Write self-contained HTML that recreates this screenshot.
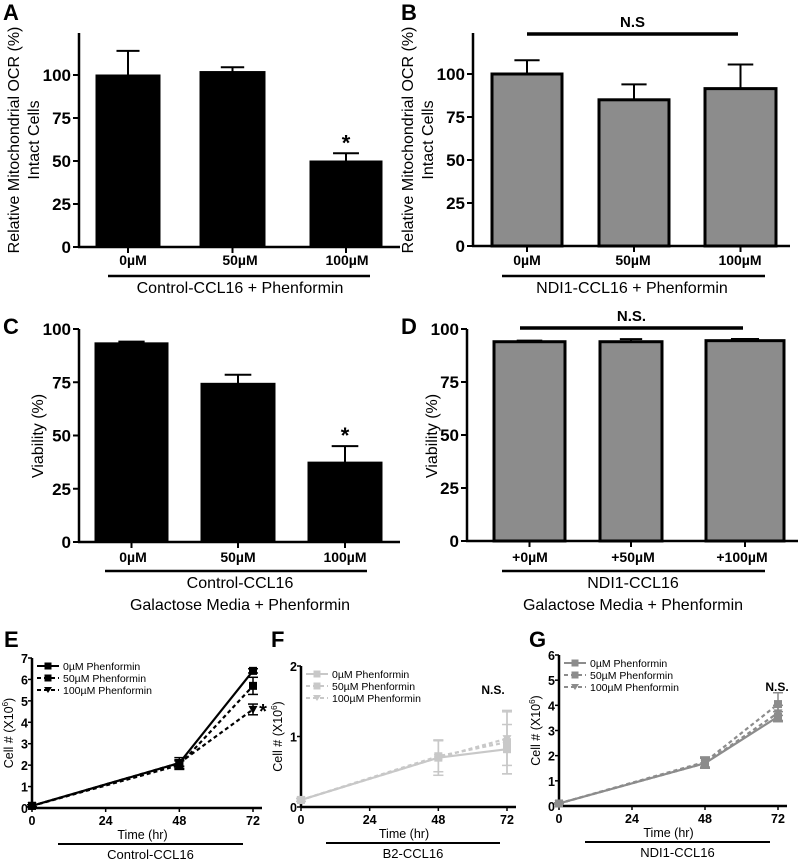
<!DOCTYPE html>
<html><head><meta charset="utf-8">
<style>
html,body{margin:0;padding:0;background:#fff;}
svg{display:block;font-family:"Liberation Sans",Arial,sans-serif;}
</style></head>
<body>
<svg id="fig" width="798" height="860" viewBox="0 0 798 860" xmlns="http://www.w3.org/2000/svg"></svg>
<script>
// ---- Bar panel data ----
const barCatsA = ["0\u00b5M","50\u00b5M","100\u00b5M"];
const barValsA = [100, 102, 50];
const barErrA  = [14, 2.5, 4.5];
const barCatsB = ["0\u00b5M","50\u00b5M","100\u00b5M"];
const barValsB = [100, 85, 91.5];
const barErrB  = [8, 9, 14];
const barCatsC = ["0\u00b5M","50\u00b5M","100\u00b5M"];
const barValsC = [93.5, 74.5, 37.5];
const barErrC  = [0.6, 4, 7.5];
const barCatsD = ["+0\u00b5M","+50\u00b5M","+100\u00b5M"];
const barValsD = [94, 94, 94.5];
const barErrD  = [0.5, 1.2, 0.8];
const barTicks = [0, 25, 50, 75, 100];
// ---- Growth curve data ----
const timePoints = [0, 48, 72];
const timeTicks = [0, 24, 48, 72];
const seriesNames = ["0\u00b5M Phenformin","50\u00b5M Phenformin","100\u00b5M Phenformin"];
const growthE0 = [0.1, 2.1, 6.4];
const growthE50 = [0.1, 2.0, 5.7];
const growthE100 = [0.1, 2.1, 4.6];
const errE0 = [0.05, 0.25, 0.1];
const errE50 = [0.05, 0.2, 0.4];
const errE100 = [0.05, 0.15, 0.25];
const growthF0 = [0.1, 0.7, 0.82];
const growthF50 = [0.1, 0.72, 0.92];
const growthF100 = [0.1, 0.7, 0.97];
const errF0 = [0.02, 0.25, 0.35];
const errF50 = [0.02, 0.22, 0.45];
const errF100 = [0.02, 0.25, 0.38];
const growthG0 = [0.1, 1.7, 3.55];
const growthG50 = [0.1, 1.75, 4.05];
const growthG100 = [0.1, 1.7, 3.7];
const errG0 = [0.03, 0.2, 0.2];
const errG50 = [0.03, 0.2, 0.45];
const errG100 = [0.03, 0.2, 0.3];
const yTicksE = [0,1,2,3,4,5,6,7];
const yTicksF = [0,1,2];
const yTicksG = [0,1,2,3,4,5,6];

const NS = "http://www.w3.org/2000/svg";
const svg = document.getElementById('fig');
function el(tag, attrs, parent, text){
  const e = document.createElementNS(NS, tag);
  for (const k in attrs) e.setAttribute(k, attrs[k]);
  if (text !== undefined) e.textContent = text;
  (parent || svg).appendChild(e);
  return e;
}
function line(x1,y1,x2,y2,w,c,g,dash){
  const a={x1:x1,y1:y1,x2:x2,y2:y2,stroke:c||'#000','stroke-width':w||2};
  if(dash) a['stroke-dasharray']=dash;
  return el('line',a,g);
}

function barPanel(cfg, cats, vals, errs){
  const g = el('g',{});
  
  
  const y = v => cfg.y0 - (v/100)*(cfg.y0-cfg.y100);
  const L = el('text',{x:cfg.letterX,y:cfg.letterY,'font-size':22,'font-weight':'bold'},g,cfg.letter);
  
  
  const ya = line(cfg.ax, cfg.axTop, cfg.ax, cfg.y0, 2.5,'#000',g);
  
  
  const xa = line(cfg.ax-1, cfg.y0, cfg.axRight, cfg.y0, 2.5,'#000',g);
  
  
  barTicks.forEach(t=>{
    line(cfg.ax-6, y(t), cfg.ax, y(t), 2,'#000',g);
    const tl = el('text',{x:cfg.ax-8,y:y(t)+6,'font-size':17,'font-weight':'bold','text-anchor':'end'},g,String(t));
    
    
  });
  cats.forEach((c,i)=>{
    const x1 = cfg.bars[i][0], x2 = cfg.bars[i][1], cx=(x1+x2)/2;
    const top = y(vals[i]);
    const eb = line(cx, top, cx, y(vals[i]+errs[i]), 2,'#000',g);
    
    
    line(cx-(x2-x1)*0.18, y(vals[i]+errs[i]), cx+(x2-x1)*0.18, y(vals[i]+errs[i]), 2,'#000',g);
    const r = el('rect',{x:x1,y:top,width:x2-x1,height:cfg.y0-top,fill:cfg.fill,stroke:'#000','stroke-width':cfg.stroke},g);
    
    
    line(cx, cfg.y0, cx, cfg.y0+6, 2,'#000',g);
    const tl = el('text',{x:cfg.labelX[i],y:cfg.tickY,'font-size':14,'font-weight':'bold','text-anchor':'middle'},g,c);
    
    
    if(cfg.star && cfg.star[i]){
      const s = el('text',{x:cx,y:y(vals[i]+errs[i])-3,'font-size':22,'font-weight':'bold','text-anchor':'middle'},g,'*');
      
      
    }
  });
  const ul = line(cfg.ul[0], cfg.ulY, cfg.ul[1], cfg.ulY, 2.5,'#000',g);
  
  
  cfg.group.forEach((t,k)=>{
    const gt = el('text',{x:cfg.groupX,y:cfg.ulY+17+k*22,'font-size':16,'text-anchor':'middle'},g,t);
    
    
  });
  cfg.ytitle.forEach((t,k)=>{
    const yt = el('text',{x:0,y:0,'font-size':16,'text-anchor':'middle',transform:`translate(${cfg.ytX[k]},${cfg.ytY}) rotate(-90)`},g,t);
    
    
  });
  if(cfg.ns){
    line(cfg.ns[0], cfg.ns[2], cfg.ns[1], cfg.ns[2], 3.5,'#000',g);
    const nt = el('text',{x:(cfg.ns[0]+cfg.ns[1])/2,y:cfg.ns[2]-7,'font-size':15,'font-weight':'bold','text-anchor':'middle'},g,cfg.ns[3]);
    
    
  }
}

barPanel({name:'panel-a',letter:'A',letterX:3,letterY:20,ax:79,axTop:33,axRight:400,y0:247,y100:75,
  bars:[[96,160],[200,265],[310,382]],labelX:[133,240,347],tickY:265,fill:'#000',stroke:1,
  ul:[108,370],ulY:276,groupX:240,group:['Control-CCL16 + Phenformin'],
  ytitle:['Relative Mitochondrial OCR (%)','Intact Cells'],ytX:[19,39],ytY:140,star:[0,0,1]},
  barCatsA, barValsA, barErrA);
barPanel({name:'panel-b',letter:'B',letterX:401,letterY:20,ax:473,axTop:33,axRight:790,y0:246,y100:74,
  bars:[[492,562],[599,669],[705,776]],labelX:[527,633,740],tickY:265,fill:'#8c8c8c',stroke:3,
  ul:[502,765],ulY:276,groupX:632,group:['NDI1-CCL16 + Phenformin'],
  ytitle:['Relative Mitochondrial OCR (%)','Intact Cells'],ytX:[413,433],ytY:140,ns:[527,738,34,'N.S']},
  barCatsB, barValsB, barErrB);
barPanel({name:'panel-c',letter:'C',letterX:3,letterY:334,ax:79,axTop:329,axRight:400,y0:542,y100:329,
  bars:[[95,168],[201,275],[308,382]],labelX:[133,238,345],tickY:562,fill:'#000',stroke:1,
  ul:[105,367],ulY:571,groupX:240,group:['Control-CCL16','Galactose Media + Phenformin'],
  ytitle:['Viability (%)'],ytX:[43],ytY:436,star:[0,0,1]},
  barCatsC, barValsC, barErrC);
barPanel({name:'panel-d',letter:'D',letterX:401,letterY:334,ax:467,axTop:329,axRight:798,y0:541,y100:329,
  bars:[[494,565],[600,662],[706,784]],labelX:[530,633,742],tickY:562,fill:'#8c8c8c',stroke:3,
  ul:[502,765],ulY:571,groupX:633,group:['NDI1-CCL16','Galactose Media + Phenformin'],
  ytitle:['Viability (%)'],ytX:[437],ytY:436,ns:[520,743,328,'N.S.']},
  barCatsD, barValsD, barErrD);

function linePanel(cfg, ys, errs){
  const g = el('g',{});
  
  
  const ymax = cfg.ticks[cfg.ticks.length-1];
  const Y = v => cfg.y0 - v/ymax*(cfg.y0-cfg.yTop);
  const X = t => cfg.ax + t/72*(cfg.x72-cfg.ax);
  const L = el('text',{x:cfg.letterX,y:cfg.letterY,'font-size':22,'font-weight':'bold'},g,cfg.letter);
  
  
  line(cfg.ax, cfg.yTop, cfg.ax, cfg.y0, 2.5,'#000',g);
  line(cfg.ax, cfg.y0, cfg.x72+9, cfg.y0, 2.5,'#000',g);
  cfg.ticks.forEach(t=>{
    line(cfg.ax-4, Y(t), cfg.ax, Y(t), 1.5,'#000',g);
    const tl = el('text',{x:cfg.ax-4,y:Y(t)+5,'font-size':12.5,'font-weight':'bold','text-anchor':'end'},g,String(t));
    
    
  });
  timeTicks.forEach(t=>{
    line(X(t), cfg.y0, X(t), cfg.y0+4, 1.5,'#000',g);
    const tl = el('text',{x:X(t),y:cfg.y0+17,'font-size':12.5,'font-weight':'bold','text-anchor':'middle'},g,String(t));
    
    
  });
  const xt = el('text',{x:(cfg.ax+cfg.x72)/2,y:cfg.y0+31,'font-size':12.5,'text-anchor':'middle'},g,'Time (hr)');
  
  
  line(cfg.ul[0], cfg.y0+36, cfg.ul[1], cfg.y0+36, 2,'#000',g);
  const gl = el('text',{x:(cfg.ul[0]+cfg.ul[1])/2,y:cfg.y0+51,'font-size':13,'text-anchor':'middle'},g,cfg.group);
  
  
  const yt = el('text',{x:0,y:0,'font-size':12.5,'text-anchor':'middle',transform:`translate(${cfg.ax-19},${(cfg.y0+cfg.yTop)/2}) rotate(-90)`},g);
  
  
  el('tspan',{},yt,'Cell # (X10');
  el('tspan',{'font-size':8,dy:-5},yt,'6');
  el('tspan',{dy:5},yt,')');
  const dashes = [null,'4,3','4,3'];
  ys.forEach((s,k)=>{
    const pts = timePoints.map((t,i)=>X(t)+','+Y(s[i])).join(' ');
    const pl = el('polyline',{points:pts,fill:'none',stroke:cfg.color,'stroke-width':2.2},g);
    if(dashes[k]) pl.setAttribute('stroke-dasharray',dashes[k]);
    
    
    timePoints.forEach((t,i)=>{
      const cx=X(t), cy=Y(s[i]), e=errs[k][i];
      line(cx, Y(s[i]-e), cx, Y(s[i]+e), 1.5, cfg.color, g);
      line(cx-5, Y(s[i]+e), cx+5, Y(s[i]+e), 1.5, cfg.color, g);
      line(cx-5, Y(s[i]-e), cx+5, Y(s[i]-e), 1.5, cfg.color, g);
      let m;
      if(k<2) m = el('rect',{x:cx-4,y:cy-4,width:8,height:8,fill:cfg.color},g);
      else m = el('polygon',{points:`${cx-4.5},${cy-3.5} ${cx+4.5},${cy-3.5} ${cx},${cy+4.5}`,fill:cfg.color},g);
      
      
    });
    const ly = cfg.yTop + 8 + k*12, lx = cfg.ax+5;
    const ll = line(lx, ly, lx+22, ly, 2, cfg.color, g, dashes[k]);
    
    
    if(k<2) el('rect',{x:lx+7.5,y:ly-3.5,width:7,height:7,fill:cfg.color},g);
    else el('polygon',{points:`${lx+7},${ly-3} ${lx+15},${ly-3} ${lx+11},${ly+3}`,fill:cfg.color},g);
    const lt = el('text',{x:lx+26,y:ly+4,'font-size':10.5},g,seriesNames[k]);
    
    
  });
  if(cfg.note){
    const nt = el('text',{x:cfg.note[0],y:cfg.note[1],'font-size':cfg.note[3],'font-weight':'bold','text-anchor':'middle'},g,cfg.note[2]);
    
    
  }
}

linePanel({name:'panel-e',letter:'E',letterX:4,letterY:647,ax:32,x72:253,y0:808,yTop:658,ticks:yTicksE,color:'#000',
  ul:[58,243],group:'Control-CCL16',note:[263,718,'*',20]},
  [growthE0,growthE50,growthE100],[errE0,errE50,errE100]);
linePanel({name:'panel-f',letter:'F',letterX:271,letterY:647,ax:301,x72:507,y0:807,yTop:666,ticks:yTicksF,color:'#c8c8c8',
  ul:[326,500],group:'B2-CCL16',note:[493,694,'N.S.',12]},
  [growthF0,growthF50,growthF100],[errF0,errF50,errF100]);
linePanel({name:'panel-g',letter:'G',letterX:529,letterY:647,ax:559,x72:778,y0:806,yTop:655,ticks:yTicksG,color:'#8c8c8c',
  ul:[585,770],group:'NDI1-CCL16',note:[777,691,'N.S.',12]},
  [growthG0,growthG50,growthG100],[errG0,errG50,errG100]);
</script>
</body></html>
